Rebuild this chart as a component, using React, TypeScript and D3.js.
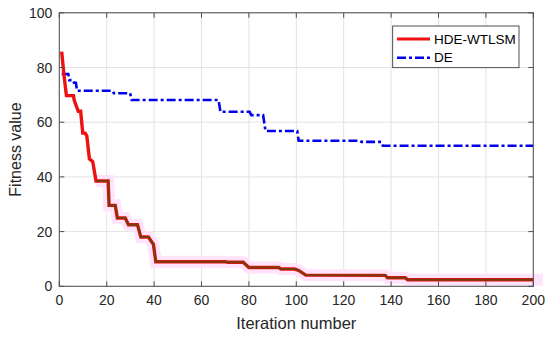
import React from "react";
import * as d3 from "d3";

const xTicks = [0, 20, 40, 60, 80, 100, 120, 140, 160, 180, 200];
const yTicks = [0, 20, 40, 60, 80, 100];

const hdeIter = [1, 2, 3, 6, 6.3, 8, 9, 9.9, 10.9, 11.6, 12.7, 14.1, 15.5, 20.6, 21, 23.6, 24.5, 27.8, 29.2, 33, 34.4, 37.6, 38.8, 39.7, 40.7, 70, 71, 77.6, 80, 92.6, 93.5, 99.3, 101, 104, 137.5, 138.5, 146, 147, 200];
const hdeVal = [85.8, 77, 69.7, 69.7, 68, 64, 64, 56, 56, 55, 46.6, 45.6, 38.5, 38.5, 29.6, 29.6, 25, 25, 22.5, 22.5, 18, 18, 16.5, 15.4, 9.0, 9.0, 8.8, 8.8, 6.9, 6.9, 6.3, 6.3, 5.8, 4.1, 4.0, 3.1, 3.1, 2.4, 2.4];

const deIter = [1, 3.8, 4.2, 5.8, 6.2, 7, 7.5, 22.5, 23, 29.9, 30.5, 67.2, 68, 80.3, 81, 86, 87, 100.4, 101, 126.8, 127.5, 135.8, 136.5, 200];
const deVal = [77.6, 77.6, 75.4, 75.4, 74.4, 74.4, 71.5, 71.5, 70.6, 70.6, 68.1, 68.1, 63.8, 63.8, 62.6, 62.6, 56.8, 56.8, 53.2, 53.2, 52.8, 52.8, 51.4, 51.4];

const legendLabels = ["HDE-WTLSM", "DE"];

export default function App() {
  const x = d3.scaleLinear().domain([0, 200]).range([59.3, 533.3]);
  const y = d3.scaleLinear().domain([0, 100]).range([286.3, 12.8]);
  const line = d3
    .line<[number, number]>()
    .x((d) => x(d[0]))
    .y((d) => y(d[1]));
  const hde: [number, number][] = hdeIter.map((t, i) => [t, hdeVal[i]]);
  const de: [number, number][] = deIter.map((t, i) => [t, deVal[i]]);
  const hdeLate = hde.filter((d) => d[0] >= 15.5);
  const band: [number, number][] = [...hdeLate, [204, hdeLate[hdeLate.length - 1][1]]];
  const font = "'Liberation Sans', Arial, sans-serif";
  const axisColor = "#4d4d4d";
  const [x0, x1] = x.range();
  const [y0, y1] = y.range();
  return (
    <svg width={550} height={340} style={{ position: "absolute", left: 0, top: 0 }} fontFamily={font}>
      <rect width={550} height={340} fill="#fff" />
      {xTicks.map((t) => (
        <line key={"gx" + t} x1={x(t)} x2={x(t)} y1={y1} y2={y0} stroke="#e3e3e3" strokeWidth={1} />
      ))}
      {yTicks.map((t) => (
        <line key={"gy" + t} x1={x0} x2={x1} y1={y(t)} y2={y(t)} stroke="#e3e3e3" strokeWidth={1} />
      ))}
      <path d={line(band) || ""} fill="none" stroke="#ffe3fa" strokeWidth={12} strokeLinejoin="miter" />
      <path d={line(de) || ""} fill="none" stroke="#0000ee" strokeWidth={2.6} strokeDasharray="9,3,3,3" />
      <path d={line(hde) || ""} fill="none" stroke="#ee1111" strokeWidth={3.4} />
      <path d={line(hdeLate) || ""} fill="none" stroke="#7a3a0c" strokeWidth={2} />
      <rect x={x0} y={y1} width={x1 - x0} height={y0 - y1} fill="none" stroke={axisColor} strokeWidth={1} />
      {xTicks.map((t) => (
        <g key={"tx" + t}>
          <line x1={x(t)} x2={x(t)} y1={y0} y2={y0 - 5} stroke={axisColor} />
          <line x1={x(t)} x2={x(t)} y1={y1} y2={y1 + 5} stroke={axisColor} />
          <text x={x(t)} y={y0 + 19} textAnchor="middle" fontSize={14} fill="#262626">
            {t}
          </text>
        </g>
      ))}
      {yTicks.map((t) => (
        <g key={"ty" + t}>
          <line x1={x0} x2={x0 + 5} y1={y(t)} y2={y(t)} stroke={axisColor} />
          <line x1={x1} x2={x1 - 5} y1={y(t)} y2={y(t)} stroke={axisColor} />
          <text x={x0 - 7} y={y(t) + 5} textAnchor="end" fontSize={14} fill="#262626">
            {t}
          </text>
        </g>
      ))}
      <text x={(x0 + x1) / 2} y={329} textAnchor="middle" fontSize={16.5} fill="#262626">
        Iteration number
      </text>
      <text
        transform={`translate(21,${(y0 + y1) / 2}) rotate(-90)`}
        textAnchor="middle"
        fontSize={16}
        fill="#262626"
      >
        Fitness value
      </text>
      <rect x={392.7} y={26} width={126.3} height={41.7} fill="#fff" stroke="#262626" strokeWidth={0.8} />
      <line x1={397} x2={430} y1={39} y2={39} stroke="#ee1111" strokeWidth={3} />
      <line x1={397} x2={430} y1={57.7} y2={57.7} stroke="#0000ee" strokeWidth={2.6} strokeDasharray="9,3,3,3" />
      <text x={434} y={43.7} fontSize={13.5} fill="#000">
        {legendLabels[0]}
      </text>
      <text x={434} y={62.4} fontSize={13.5} fill="#000">
        {legendLabels[1]}
      </text>
    </svg>
  );
}
